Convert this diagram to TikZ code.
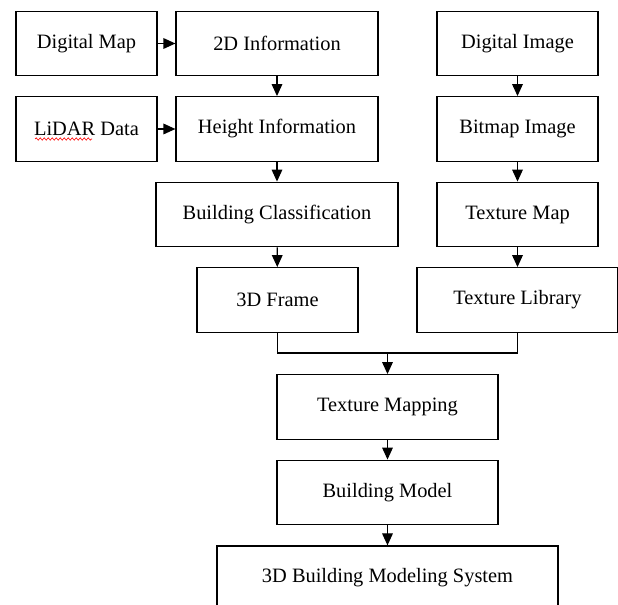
\documentclass[tikz,border=0pt]{standalone}
\usepackage{fontspec}
\setmainfont{Liberation Serif}
\usetikzlibrary{arrows.meta,decorations.pathmorphing}

\begin{document}
\begin{tikzpicture}[x=0.75pt,y=-0.75pt,
  box/.style={draw, line width=0.9pt, minimum width=#1*0.75pt, minimum height=48.5pt,
    inner sep=0pt, font=\fontsize{15.3}{18}\selectfont},
  arr/.style={line width=0.9pt, -{Triangle[length=9pt,width=8pt]}},
  joint/.style={line width=0.9pt}]
\clip (0,0) rectangle (618,605);

% left column: map and lidar
\node[box=141] (dmap) at (86.5,43.5) {Digital Map};
\node[box=141] (lidar) at (86.5,129) {LiDAR Data};
\node[box=202] (info2d) at (277,43.5) {2D Information};
\node[box=202] (height) at (277,129) {Height Information};
\node[box=242] (classif) at (277,214.5) {Building Classification};
\node[box=161] (frame) at (277.5,300) {3D Frame};

% right column: images
\node[box=161] (dimage) at (517.5,43.5) {Digital Image};
\node[box=161] (bitmap) at (517.5,129) {Bitmap Image};
\node[box=161] (texmap) at (517.5,214.5) {Texture Map};
\node[box=201] (texlib) at (517.5,300) {Texture Library};

% bottom
\coordinate (join) at (387.5,353);
\node[box=221] (mapping) at (387.5,407) {Texture Mapping};
\node[box=221] (model) at (387.5,492.5) {Building Model};
\node[box=341, minimum height=48pt] (system) at (387.5,578) {3D Building Modeling System};

\draw[arr] (dmap) -- (info2d);
\draw[arr] (lidar) -- (height);
\draw[arr] (info2d) -- (height);
\draw[arr] (height) -- (classif);
\draw[arr] (classif) -- (frame);

\draw[arr] (dimage) -- (bitmap);
\draw[arr] (bitmap) -- (texmap);
\draw[arr] (texmap) -- (texlib);

\draw[joint] (frame.south) |- (join) -| (texlib.south);
\draw[arr] (join) -- (mapping);
\draw[arr] (mapping) -- (model);
\draw[arr] (model) -- (system);

% spell-check squiggle under LiDAR
\draw[red, line width=0.5pt, decorate,
  decoration={snake, amplitude=0.8pt, segment length=3pt}] (35,139) -- (92,139);
\end{tikzpicture}
\end{document}
